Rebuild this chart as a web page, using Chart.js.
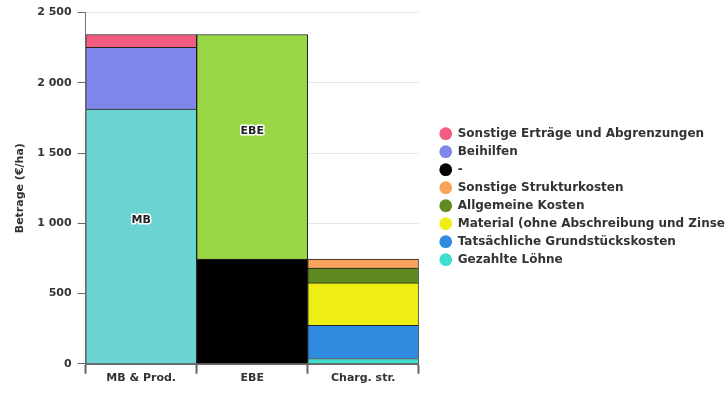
<!DOCTYPE html>
<html>
<head>
<meta charset="utf-8">
<script src="https://cdn.jsdelivr.net/npm/chart.js@4.4.1/dist/chart.umd.min.js"></script>
<style>
  html, body { margin: 0; padding: 0; overflow: hidden; background: #fff; }
  #wrap { width: 749px; height: 400px; position: relative; }
</style>
</head>
<body>
<div id="wrap"><canvas id="chart"></canvas></div>
<script>
const categories = ['MB & Prod.', 'EBE', 'Charg. str.']
const yTicks = [0, 500, 1000, 1500, 2000, 2500]

// stack order, bottom to top
const mb = [1813, null, null]
const loehne = [null, null, 38]
const grundstueck = [null, null, 236]
const material = [null, null, 302]
const allgemein = [null, null, 106]
const sonstStruktur = [null, null, 64]
const dash = [null, 746, null]
const ebe = [null, 1598, null]
const beihilfen = [439, null, null]
const sonstErtraege = [92, null, null]

const ctx = document.getElementById('chart')

const seriesDefs = [
    { label: 'MB', data: mb, color: '#6bd3d1', legend: false, tag: 'MB' },
    { label: 'Gezahlte Löhne', data: loehne, color: '#40ded0' },
    { label: 'Tatsächliche Grundstückskosten', data: grundstueck, color: '#2e8be0' },
    { label: 'Material (ohne Abschreibung und Zinsen)', data: material, color: '#eeee14' },
    { label: 'Allgemeine Kosten', data: allgemein, color: '#5e8a1f' },
    { label: 'Sonstige Strukturkosten', data: sonstStruktur, color: '#f7a35c' },
    { label: '-', data: dash, color: '#000000' },
    { label: 'EBE', data: ebe, color: '#9ad746', legend: false, tag: 'EBE' },
    { label: 'Beihilfen', data: beihilfen, color: '#8085e9' },
    { label: 'Sonstige Erträge und Abgrenzungen', data: sonstErtraege, color: '#f15c80' }
]

const datasets = seriesDefs.map(s => ({
    label: s.label,
    data: s.data,
    backgroundColor: s.color,
    borderColor: '#222',
    borderWidth: 1,
    barPercentage: 1,
    categoryPercentage: 1,
    hideLegend: s.legend === false,
    tag: s.tag
}))

// labels written inside MB / EBE bars
const barLabels = {
    id: 'barLabels',
    afterDatasetsDraw(chart) {
        const c = chart.ctx
        chart.data.datasets.forEach((ds, i) => {
            if (!ds.tag) return
            chart.getDatasetMeta(i).data.forEach((bar, j) => {
                if (ds.data[j] == null) return
                const y = (bar.y + bar.base) / 2 - 16
                c.save()
                c.font = 'bold 11px "DejaVu Sans"'
                c.textAlign = 'center'
                c.textBaseline = 'middle'
                c.lineJoin = 'round'
                c.lineWidth = 3
                c.strokeStyle = '#fff'
                c.strokeText(ds.tag, bar.x, y)
                c.fillStyle = '#222'
                c.fillText(ds.tag, bar.x, y)
                c.restore()
            })
        })
    }
}

const fmt = v => String(v).replace(/\B(?=(\d{3})+(?!\d))/g, ' ')

Chart.defaults.font.family = '"DejaVu Sans"'
Chart.defaults.color = '#333'

new Chart(ctx, {
    type: 'bar',
    data: { labels: categories, datasets: datasets },
    options: {
        maintainAspectRatio: false,
        animation: false,
        layout: { padding: { left: 10, top: 0, right: 0, bottom: 17 } },
        plugins: {
            tooltip: { enabled: false },
            legend: {
                position: 'right',
                reverse: true,
                maxWidth: 400,
                // blank title only nudges the items down a little
                title: { display: true, text: ' ', font: { size: 2 }, padding: 4 },
                labels: {
                    usePointStyle: true,
                    pointStyle: 'circle',
                    boxHeight: 9,
                    padding: 6,
                    color: '#333',
                    font: { size: 12, weight: 'bold' },
                    filter: (item, data) => !data.datasets[item.datasetIndex].hideLegend,
                    generateLabels: chart => {
                        const items = Chart.defaults.plugins.legend.labels.generateLabels(chart)
                        items.forEach(it => { it.lineWidth = 0; it.strokeStyle = it.fillStyle })
                        return items
                    }
                }
            }
        },
        scales: {
            x: {
                stacked: true,
                grid: { drawOnChartArea: false, offset: true, tickLength: 10, tickColor: '#666', tickWidth: 2 },
                border: { color: '#666', width: 2 },
                ticks: { color: '#333', font: { size: 11, weight: 'bold' }, padding: -2 }
            },
            y: {
                stacked: true,
                min: 0,
                max: 2500,
                afterBuildTicks: axis => { axis.ticks = yTicks.map(v => ({ value: v })) },
                grid: { color: '#e6e6e6', tickLength: 8, tickColor: '#666' },
                border: { color: '#777' },
                ticks: { color: '#333', font: { size: 11, weight: 'bold' }, padding: 6, callback: v => fmt(v) },
                title: { display: true, text: 'Betrage (€/ha)', color: '#333', font: { size: 11, weight: 'bold' }, padding: 4 }
            },
            // empty axis used as a gap between plot and legend
            gap: {
                position: 'right',
                display: true,
                grid: { display: false },
                border: { display: false },
                ticks: { display: false },
                afterFit: axis => { axis.width = 15 }
            }
        }
    },
    plugins: [barLabels]
})
</script>
</body>
</html>
